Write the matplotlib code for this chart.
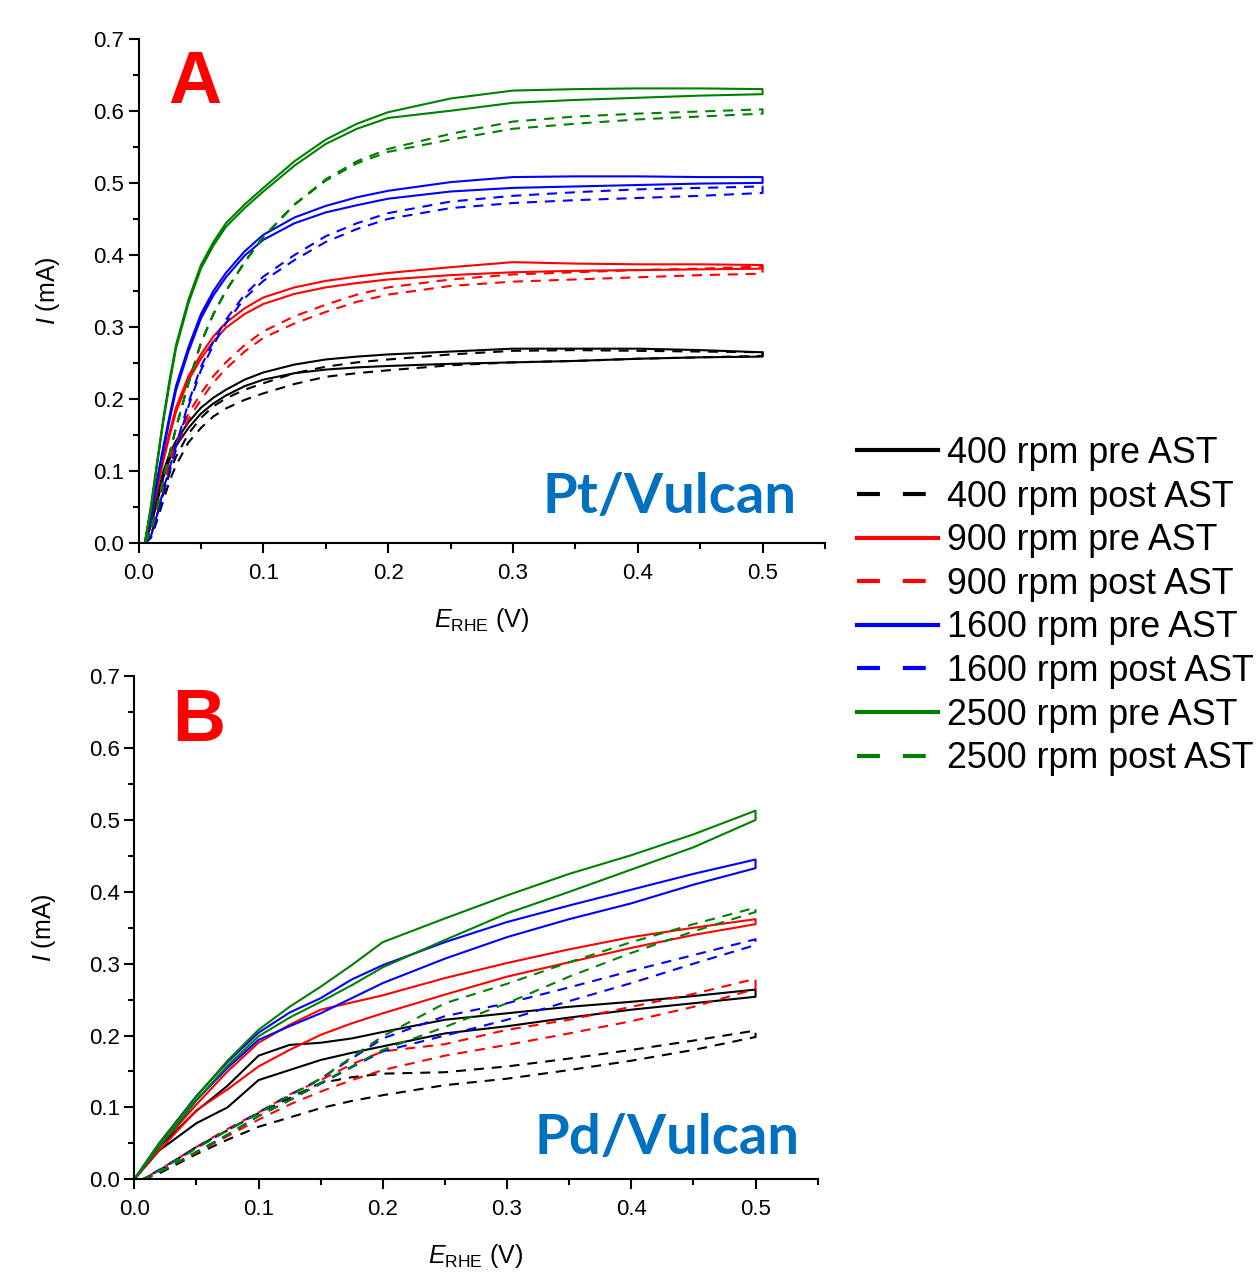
import matplotlib.pyplot as plt
from matplotlib.ticker import MultipleLocator

plt.rcParams['font.family'] = ['Liberation Sans', 'DejaVu Sans']
plt.rcParams['mathtext.fontset'] = 'custom'
plt.rcParams['mathtext.rm'] = 'Liberation Sans'
plt.rcParams['mathtext.it'] = 'Liberation Sans:italic'

# ---- panel A : Pt/Vulcan, potentials (V) and currents (mA)
e_pt = [0.005, 0.01, 0.015, 0.02, 0.025, 0.03, 0.04, 0.05, 0.06, 0.07, 0.085, 0.1,
        0.125, 0.15, 0.175, 0.2, 0.25, 0.3, 0.35, 0.4, 0.45, 0.5]

pt_400_pre_up = [0, 0.03, 0.065, 0.1, 0.125, 0.142, 0.168, 0.188, 0.202, 0.213, 0.227, 0.237,
                 0.248, 0.255, 0.259, 0.262, 0.266, 0.27, 0.27, 0.27, 0.268, 0.265]
pt_400_pre_dn = [0, 0.025, 0.058, 0.092, 0.117, 0.135, 0.16, 0.18, 0.194, 0.205, 0.218, 0.227,
                 0.236, 0.241, 0.244, 0.246, 0.249, 0.251, 0.253, 0.256, 0.258, 0.259]
pt_400_post_up = [0, 0.012, 0.04, 0.07, 0.098, 0.12, 0.152, 0.174, 0.19, 0.201, 0.213, 0.222,
                  0.236, 0.245, 0.251, 0.255, 0.262, 0.267, 0.268, 0.267, 0.266, 0.265]
pt_400_post_dn = [0, 0.008, 0.032, 0.06, 0.087, 0.108, 0.14, 0.16, 0.176, 0.187, 0.199, 0.208,
                  0.221, 0.231, 0.236, 0.24, 0.247, 0.251, 0.253, 0.256, 0.258, 0.26]

pt_900_pre_up = [0, 0.038, 0.08, 0.12, 0.155, 0.188, 0.232, 0.262, 0.287, 0.306, 0.326, 0.341,
                 0.355, 0.364, 0.37, 0.375, 0.383, 0.39, 0.388, 0.387, 0.387, 0.386]
pt_900_pre_dn = [0, 0.033, 0.075, 0.115, 0.15, 0.182, 0.226, 0.256, 0.28, 0.299, 0.318, 0.332,
                 0.346, 0.355, 0.361, 0.366, 0.372, 0.376, 0.378, 0.379, 0.38, 0.381]
pt_900_post_up = [0, 0.018, 0.05, 0.085, 0.115, 0.14, 0.18, 0.208, 0.232, 0.251, 0.275, 0.294,
                  0.315, 0.331, 0.345, 0.355, 0.366, 0.373, 0.376, 0.379, 0.381, 0.384]
pt_900_post_dn = [0, 0.014, 0.045, 0.078, 0.107, 0.132, 0.172, 0.199, 0.223, 0.242, 0.266, 0.285,
                  0.305, 0.321, 0.335, 0.345, 0.357, 0.363, 0.366, 0.369, 0.372, 0.374]

pt_1600_pre_up = [0, 0.04, 0.09, 0.135, 0.178, 0.218, 0.272, 0.318, 0.35, 0.375, 0.405, 0.428,
                  0.452, 0.468, 0.48, 0.489, 0.501, 0.508, 0.509, 0.509, 0.508, 0.508]
pt_1600_pre_dn = [0, 0.035, 0.085, 0.13, 0.172, 0.212, 0.266, 0.312, 0.344, 0.369, 0.399, 0.421,
                  0.444, 0.459, 0.469, 0.478, 0.488, 0.493, 0.495, 0.497, 0.499, 0.5]
pt_1600_post_up = [0, 0.01, 0.04, 0.075, 0.105, 0.135, 0.195, 0.245, 0.28, 0.31, 0.345, 0.37,
                   0.4, 0.426, 0.444, 0.458, 0.474, 0.482, 0.487, 0.491, 0.493, 0.495]
pt_1600_post_dn = [0, 0.008, 0.035, 0.07, 0.1, 0.13, 0.19, 0.24, 0.275, 0.305, 0.34, 0.364,
                   0.393, 0.418, 0.436, 0.45, 0.465, 0.472, 0.476, 0.479, 0.482, 0.486]

pt_2500_pre_up = [0, 0.053, 0.115, 0.175, 0.228, 0.275, 0.338, 0.386, 0.418, 0.444, 0.47, 0.493,
                  0.53, 0.56, 0.582, 0.598, 0.617, 0.628, 0.63, 0.631, 0.631, 0.63]
pt_2500_pre_dn = [0, 0.048, 0.11, 0.17, 0.222, 0.27, 0.333, 0.381, 0.413, 0.439, 0.465, 0.488,
                  0.524, 0.554, 0.575, 0.59, 0.6, 0.611, 0.615, 0.618, 0.621, 0.623]
pt_2500_post_up = [0, 0.02, 0.05, 0.09, 0.125, 0.16, 0.222, 0.278, 0.318, 0.35, 0.39, 0.425,
                   0.47, 0.505, 0.53, 0.547, 0.568, 0.585, 0.592, 0.596, 0.599, 0.602]
pt_2500_post_dn = [0, 0.02, 0.05, 0.09, 0.125, 0.16, 0.222, 0.278, 0.318, 0.35, 0.39, 0.425,
                   0.47, 0.503, 0.527, 0.543, 0.56, 0.575, 0.582, 0.588, 0.592, 0.596]

# ---- panel B : Pd/Vulcan
e_pd = [0.0, 0.02, 0.05, 0.075, 0.1, 0.125, 0.15, 0.175, 0.2, 0.25, 0.3, 0.35, 0.4, 0.45, 0.5]
e_pd_post = [0.007, 0.02, 0.05, 0.075, 0.1, 0.125, 0.15, 0.175, 0.2, 0.25, 0.3, 0.35, 0.4, 0.45, 0.5]

pd_400_pre_up = [0, 0.045, 0.095, 0.13, 0.172, 0.187, 0.19, 0.196, 0.205, 0.222, 0.231, 0.24, 0.247, 0.255, 0.264]
pd_400_pre_dn = [0, 0.04, 0.078, 0.10, 0.138, 0.152, 0.166, 0.176, 0.185, 0.203, 0.213, 0.225, 0.236, 0.245, 0.254]
pd_400_post_up = [0, 0.012, 0.045, 0.068, 0.092, 0.113, 0.134, 0.142, 0.147, 0.149, 0.157, 0.168, 0.18, 0.193, 0.207]
pd_400_post_dn = [0, 0.008, 0.035, 0.055, 0.073, 0.086, 0.099, 0.109, 0.117, 0.131, 0.14, 0.152, 0.165, 0.18, 0.198]

pd_900_pre_up = [0, 0.045, 0.104, 0.15, 0.19, 0.215, 0.236, 0.246, 0.256, 0.28, 0.301, 0.32, 0.337, 0.35, 0.362]
pd_900_pre_dn = [0, 0.04, 0.096, 0.125, 0.157, 0.18, 0.201, 0.217, 0.231, 0.257, 0.282, 0.302, 0.322, 0.34, 0.355]
pd_900_post_up = [0, 0.013, 0.045, 0.07, 0.093, 0.118, 0.138, 0.16, 0.178, 0.188, 0.208, 0.222, 0.24, 0.258, 0.279]
pd_900_post_dn = [0, 0.01, 0.037, 0.06, 0.083, 0.104, 0.122, 0.138, 0.152, 0.172, 0.187, 0.203, 0.22, 0.24, 0.265]

pd_1600_pre_up = [0, 0.05, 0.116, 0.163, 0.204, 0.232, 0.252, 0.278, 0.298, 0.33, 0.358, 0.381, 0.403, 0.425, 0.445]
pd_1600_pre_dn = [0, 0.045, 0.11, 0.155, 0.194, 0.213, 0.231, 0.252, 0.273, 0.307, 0.337, 0.362, 0.384, 0.41, 0.433]
pd_1600_post_up = [0, 0.013, 0.044, 0.068, 0.093, 0.117, 0.14, 0.168, 0.196, 0.227, 0.245, 0.267, 0.29, 0.312, 0.334]
pd_1600_post_dn = [0, 0.01, 0.038, 0.062, 0.088, 0.11, 0.133, 0.156, 0.178, 0.20, 0.222, 0.248, 0.273, 0.30, 0.326]

pd_2500_pre_up = [0, 0.05, 0.115, 0.165, 0.208, 0.24, 0.268, 0.298, 0.33, 0.363, 0.395, 0.425, 0.451, 0.48, 0.513]
pd_2500_pre_dn = [0, 0.045, 0.11, 0.158, 0.199, 0.225, 0.247, 0.27, 0.295, 0.333, 0.37, 0.40, 0.431, 0.462, 0.50]
pd_2500_post_up = [0, 0.012, 0.043, 0.068, 0.092, 0.116, 0.14, 0.17, 0.199, 0.245, 0.272, 0.302, 0.33, 0.355, 0.378]
pd_2500_post_dn = [0, 0.01, 0.038, 0.062, 0.088, 0.11, 0.134, 0.157, 0.18, 0.212, 0.245, 0.282, 0.315, 0.345, 0.372]

rpm = ['400', '900', '1600', '2500']
colors = ['black', '#FF0000', '#0000FF', '#008000']

pt_curves = [
    (pt_400_pre_up, pt_400_pre_dn, pt_400_post_up, pt_400_post_dn),
    (pt_900_pre_up, pt_900_pre_dn, pt_900_post_up, pt_900_post_dn),
    (pt_1600_pre_up, pt_1600_pre_dn, pt_1600_post_up, pt_1600_post_dn),
    (pt_2500_pre_up, pt_2500_pre_dn, pt_2500_post_up, pt_2500_post_dn),
]
pd_curves = [
    (pd_400_pre_up, pd_400_pre_dn, pd_400_post_up, pd_400_post_dn),
    (pd_900_pre_up, pd_900_pre_dn, pd_900_post_up, pd_900_post_dn),
    (pd_1600_pre_up, pd_1600_pre_dn, pd_1600_post_up, pd_1600_post_dn),
    (pd_2500_pre_up, pd_2500_pre_dn, pd_2500_post_up, pd_2500_post_dn),
]

LW = 1.5
DASH = (4.8, 3.8)


def loop(e, up, dn):
    # anodic sweep along one branch, back along the other
    return e + e[::-1], dn + up[::-1]


def style_axes(ax):
    ax.set_xlim(0, 0.55)
    ax.set_ylim(0, 0.7)
    for s in ['top', 'right']:
        ax.spines[s].set_visible(False)
    for s in ['left', 'bottom']:
        ax.spines[s].set_linewidth(1.5)
    ax.xaxis.set_major_locator(MultipleLocator(0.1))
    ax.xaxis.set_minor_locator(MultipleLocator(0.05))
    ax.yaxis.set_major_locator(MultipleLocator(0.1))
    ax.yaxis.set_minor_locator(MultipleLocator(0.05))
    ax.tick_params(which='major', direction='out', length=7, width=1.5, labelsize=16)
    ax.tick_params(axis='x', which='major', pad=7)
    ax.tick_params(which='minor', direction='out', length=4, width=1.5)
    ax.set_xlabel(r'$\mathit{E}_{\mathrm{RHE}}$ (V)', fontsize=18, labelpad=16)
    ax.set_ylabel(r'$\mathit{I}$ (mA)', fontsize=18, labelpad=22)


def draw_panel(ax, e_pre, e_post, curves):
    handles = []
    for (pre_up, pre_dn, post_up, post_dn), c in zip(curves, colors):
        x, y = loop(e_pre, pre_up, pre_dn)
        h1, = ax.plot(x, y, color=c, lw=LW)
        x, y = loop(e_post, post_up, post_dn)
        h2, = ax.plot(x, y, color=c, lw=LW, dashes=DASH)
        handles += [h1, h2]
    style_axes(ax)
    return handles


fig = plt.figure(figsize=(12.57, 12.76), dpi=100)
axA = fig.add_axes([0.1102, 0.5742, 0.5461, 0.3955])
axB = fig.add_axes([0.1068, 0.0758, 0.5437, 0.3942])

handles = draw_panel(axA, e_pt, e_pt, pt_curves)
draw_panel(axB, e_pd, e_pd_post, pd_curves)

axA.text(0.045, 0.611, 'A', color='#FF0000', fontsize=53, fontweight='bold',
         ha='center', va='baseline')
axB.text(0.052, 0.61, 'B', color='#FF0000', fontsize=53, fontweight='bold',
         ha='center', va='baseline')
axA.text(0.527, 0.042, 'Pt/Vulcan', color='#0070C0', fontsize=40.5, fontweight='bold',
         family='Lato', ha='right', va='baseline')
axB.text(0.535, 0.035, 'Pd/Vulcan', color='#0070C0', fontsize=40.5, fontweight='bold',
         family='Lato', ha='right', va='baseline')

labels = []
for r in rpm:
    labels += [f'{r} rpm pre AST', f'{r} rpm post AST']

leg = fig.legend(handles, labels, loc='upper left',
                 bbox_to_anchor=(857 / 1257, 1 - 436 / 1276),
                 frameon=False, fontsize=25.8, handlelength=2.25, handletextpad=0.25,
                 labelspacing=0.24, borderpad=0, borderaxespad=0)
for i, ln in enumerate(leg.get_lines()):
    ln.set_linewidth(3)
    if i % 2 == 1:
        ln.set_dashes((5.5, 5.5))

fig.savefig('out.png', dpi=100)
